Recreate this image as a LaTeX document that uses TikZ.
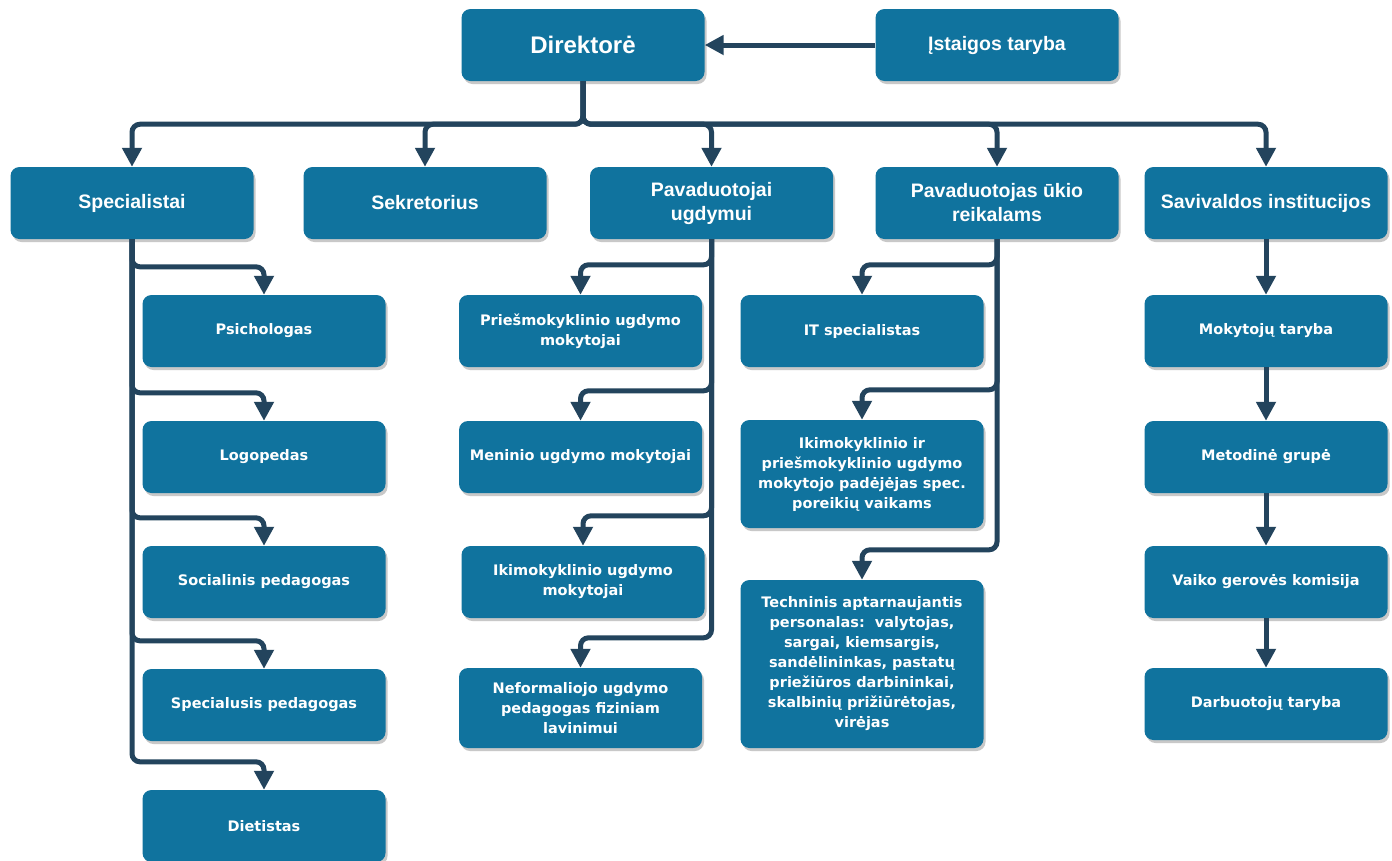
\documentclass[tikz,border=0pt]{standalone}
\usepackage{fontspec}
\newfontfamily\topfont{Liberation Sans}
\newfontfamily\subfont{DejaVu Sans}
\usetikzlibrary{arrows.meta,shadows}
\definecolor{boxblue}{HTML}{10739E}
\definecolor{linenavy}{HTML}{23445D}

\begin{document}
\begin{tikzpicture}[x=1pt,y=-1pt,
  box/.style={fill=boxblue,rounded corners=9pt,text=white,align=center,minimum width=243pt,minimum height=72pt,inner sep=2pt,
    drop shadow={shadow xshift=2pt,shadow yshift=-3pt,opacity=.3,fill=black!70}},
  head/.style={box,font=\topfont\bfseries\fontsize{19.5}{24}\selectfont},
  unit/.style={box,font=\subfont\bfseries\fontsize{14.5}{20}\selectfont},
  conn/.style={draw=linenavy,line width=5pt,rounded corners=8pt,-{Triangle[width=19pt,length=19pt]}}]
  \useasboundingbox[fill=white] (0,0) rectangle (1392,860);

  \node[head,font=\topfont\bfseries\fontsize{24}{28}\selectfont] (dir) at (583,45) {Direktorė};
  \node[head] (taryba) at (997,45) {Įstaigos taryba};

  \node[head] (spec) at (132,203) {Specialistai};
  \node[head] (sekr) at (425,203) {Sekretorius};
  \node[head] (pavu) at (711.5,203) {Pavaduotojai\\ugdymui};
  \node[head] (pavuk) at (997,203) {Pavaduotojas ūkio\\reikalams};
  \node[head] (saviv) at (1266,203) {Savivaldos institucijos};

  \node[unit] (psich) at (264,331) {Psichologas};
  \node[unit] (logo) at (264,457) {Logopedas};
  \node[unit] (soc) at (264,582) {Socialinis pedagogas};
  \node[unit] (specp) at (264,705) {Specialusis pedagogas};
  \node[unit] (diet) at (264,826) {Dietistas};

  \node[unit] (priesm) at (580.5,331) {Priešmokyklinio ugdymo\\mokytojai};
  \node[unit] (menin) at (580.5,457) {Meninio ugdymo mokytojai};
  \node[unit] (ikim) at (583,582) {Ikimokyklinio ugdymo\\mokytojai};
  \node[unit,minimum height=80pt] (neform) at (580.5,708) {Neformaliojo ugdymo\\pedagogas fiziniam\\lavinimui};

  \node[unit] (it) at (862,331) {IT specialistas};
  \node[unit,minimum height=108pt] (padej) at (862,474) {Ikimokyklinio ir\\priešmokyklinio ugdymo\\mokytojo padėjėjas spec.\\poreikių vaikams};
  \node[unit,minimum height=168pt] (techn) at (862,664) {Techninis aptarnaujantis\\personalas:\ \ valytojas,\\sargai, kiemsargis,\\sandėlininkas, pastatų\\priežiūros darbininkai,\\skalbinių prižiūrėtojas,\\virėjas};

  \node[unit] (mokyt) at (1266,331) {Mokytojų taryba};
  \node[unit] (metod) at (1266,457) {Metodinė grupė};
  \node[unit] (vaiko) at (1266,582) {Vaiko gerovės komisija};
  \node[unit] (darb) at (1266,704) {Darbuotojų taryba};

  \draw[conn] (taryba) -- (dir);
  \foreach \c in {spec,sekr,pavu,pavuk,saviv}
    \draw[conn] (dir.south) -- ++(0,43) -| (\c.north);
  \foreach \c in {psich,logo,soc,specp,diet}
    \draw[conn] (spec.south) |- ([yshift=28pt]\c.north) -- (\c.north);
  \foreach \c in {priesm,menin,ikim,neform}
    \draw[conn] (pavu.south) |- ([yshift=30pt]\c.north) -- (\c.north);
  \foreach \c in {it,padej,techn}
    \draw[conn] (pavuk.south) |- ([yshift=30pt]\c.north) -- (\c.north);
  \draw[conn] (saviv) -- (mokyt);
  \draw[conn] (mokyt) -- (metod);
  \draw[conn] (metod) -- (vaiko);
  \draw[conn] (vaiko) -- (darb);
\end{tikzpicture}
\end{document}
